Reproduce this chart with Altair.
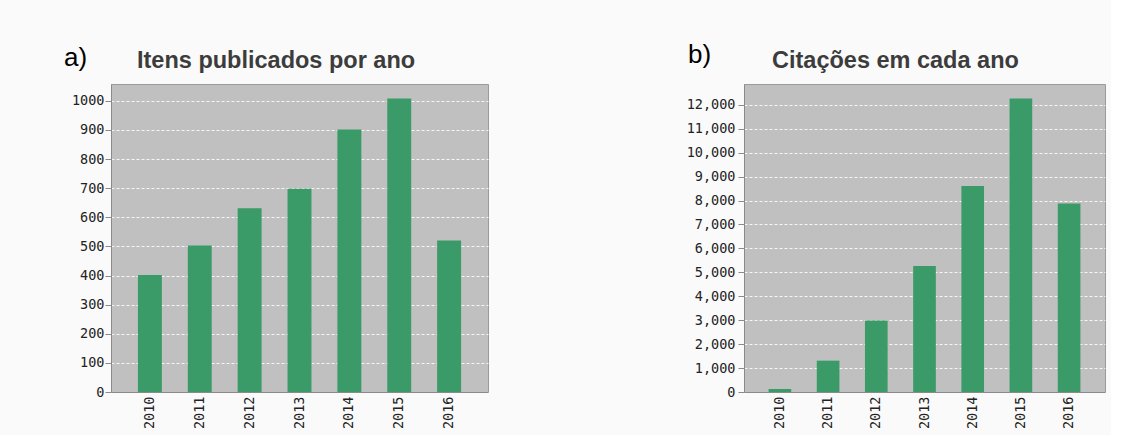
import altair as alt
import pandas as pd

# ---- data ----
years = ["2010", "2011", "2012", "2013", "2014", "2015", "2016"]
itens_publicados = [402, 503, 631, 698, 902, 1008, 520]
citacoes = [125, 1310, 2985, 5270, 8605, 12260, 7880]

left_ticks = [0, 100, 200, 300, 400, 500, 600, 700, 800, 900, 1000]
right_ticks = [0, 1000, 2000, 3000, 4000, 5000, 6000, 7000, 8000, 9000,
               10000, 11000, 12000]

GREEN = "#3a9a68"
PLOT_BG = "#c0c0c0"
LABEL_FONT = "DejaVu Sans Mono"


def panel(values, ymax, ticks, fmt, title, letter, width,
          pad_inner, pad_outer, letter_x, letter_y, title_x, title_y, label_pad):
    df = pd.DataFrame({"ano": years, "valor": values})
    bars = alt.Chart(df).mark_bar(color=GREEN).encode(
        x=alt.X(
            "ano:N",
            sort=years,
            scale=alt.Scale(paddingInner=pad_inner, paddingOuter=pad_outer),
            axis=alt.Axis(
                title=None, labelAngle=270, ticks=False, labelPadding=4,
                domainColor="#8a8a8a", grid=False,
                labelFont=LABEL_FONT, labelFontSize=13.5, labelColor="#222222",
            ),
        ),
        y=alt.Y(
            "valor:Q",
            scale=alt.Scale(domain=[0, ymax], nice=False),
            axis=alt.Axis(
                title=None, values=ticks, format=fmt, grid=True,
                gridColor="#ffffff", gridDash=[3, 2], gridOpacity=0.85,
                tickSize=6, tickColor="#8a8a8a", domainColor="#8a8a8a",
                labelPadding=label_pad,
                labelFont=LABEL_FONT, labelFontSize=13.5, labelColor="#222222",
            ),
        ),
    )
    letter_mark = alt.Chart(pd.DataFrame({"t": [letter]})).mark_text(
        align="left", baseline="alphabetic", font="Liberation Sans",
        fontSize=26, color="#000000",
    ).encode(x=alt.value(letter_x), y=alt.value(letter_y), text="t:N")
    title_mark = alt.Chart(pd.DataFrame({"t": [title]})).mark_text(
        align="left", baseline="alphabetic", font="Liberation Sans",
        fontSize=23.5, fontWeight="bold", color="#3c3c3c",
    ).encode(x=alt.value(title_x), y=alt.value(title_y), text="t:N")
    return alt.layer(bars, letter_mark, title_mark).properties(
        width=width, height=308
    )


left = panel(itens_publicados, 1058, left_ticks, "d",
             "Itens publicados por ano", "a)", 377, 0.52, 0.54,
             -47, -18, 26, -16, 1)
right = panel(citacoes, 12870, right_ticks, ",d",
              "Citações em cada ano", "b)", 361, 0.53, 0.51,
              -56, -21, 28, -16, 3)

chart = alt.hconcat(left, right, spacing=256, bounds="flush").properties(
    background="#fafafa",
    padding={"left": 63, "top": 41, "right": 5, "bottom": 5},
).configure_view(
    fill=PLOT_BG, stroke="#9a9a9a", strokeWidth=1
)

chart.save("out.html", embed_options={"renderer": "svg", "actions": False})
